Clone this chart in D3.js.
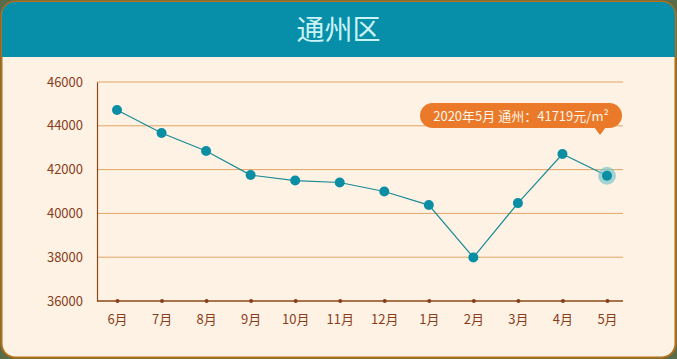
<!DOCTYPE html>
<html><head><meta charset="utf-8">
<script src="https://cdn.jsdelivr.net/npm/d3@7"></script>
<style>body{margin:0;background:#fff;}svg{display:block;}</style>
</head><body>
<svg id="c" width="677" height="359"></svg>
<script>
const title = "通州区";
const months = ["6月","7月","8月","9月","10月","11月","12月","1月","2月","3月","4月","5月"];
const prices = [44720,43670,42850,41750,41500,41410,41000,40380,37990,40470,42710,41719];
const yTicks = [36000,38000,40000,42000,44000,46000];
const tipText = "2020年5月 通州：41719元/m²";

const svg = d3.select("#c");
const W = 677, H = 359;
const font = "'Noto Sans CJK SC','Noto Sans',sans-serif";

// card
svg.append("rect").attr("x",0).attr("y",0).attr("width",W).attr("height",H).attr("fill","#5a6b4a");
svg.append("rect").attr("x",1.5).attr("y",1.5).attr("width",W-3).attr("height",H-3).attr("rx",14)
  .attr("fill","#fdf2e4").attr("stroke","#b0701c").attr("stroke-width",2);
// title bar
const clip = svg.append("clipPath").attr("id","cl");
clip.append("rect").attr("x",2).attr("y",2).attr("width",W-4).attr("height",H-4).attr("rx",13);
svg.append("rect").attr("clip-path","url(#cl)").attr("x",0).attr("y",0).attr("width",W).attr("height",57).attr("fill","#078ea8");
svg.append("text").attr("x",W/2).attr("y",40).attr("text-anchor","middle")
  .attr("font-family",font).attr("font-size",28).attr("fill","#c9f3f7").text(title);

const x = d3.scalePoint().domain(months).range([117,607]);
const y = d3.scaleLinear().domain([36000,46000]).range([301,82]);
const left = 97, right = 623;

// gridlines
svg.append("g").selectAll("line").data(yTicks.slice(1)).join("line")
  .attr("x1",left).attr("x2",right).attr("y1",d=>y(d)).attr("y2",d=>y(d))
  .attr("stroke","#e0a465").attr("stroke-width",1);

// y axis
const ya = svg.append("g").attr("transform",`translate(${left},0)`)
  .call(d3.axisLeft(y).tickValues(yTicks).tickSize(0).tickPadding(14).tickFormat(d3.format("d")));
ya.select(".domain").attr("stroke","#8a4a1a").attr("stroke-width",1.2);
ya.selectAll("text").attr("font-family",font).attr("font-size",13).attr("fill","#8a3d1a");

// x axis
const xa = svg.append("g").attr("transform",`translate(0,${y(36000)})`)
  .call(d3.axisBottom(x).tickSize(0).tickPadding(14));
xa.select(".domain").attr("d",`M${left},0H${right}`).attr("stroke","#8a4a1a").attr("stroke-width",1.5);
xa.selectAll("text").attr("font-family",font).attr("font-size",13).attr("fill","#8a3d1a");
xa.selectAll(".tick").append("circle").attr("r",2).attr("fill","#8a3d1a");

// line
const line = d3.line().x((d,i)=>x(months[i])).y(d=>y(d));
svg.append("path").datum(prices).attr("d",line).attr("fill","none").attr("stroke","#1a8a96").attr("stroke-width",1.2);

// halo on last point
const li = prices.length-1;
svg.append("circle").attr("cx",x(months[li])).attr("cy",y(prices[li])).attr("r",9).attr("fill","#7cc8cc").attr("opacity",0.7);
svg.append("g").selectAll("circle").data(prices).join("circle")
  .attr("cx",(d,i)=>x(months[i])).attr("cy",d=>y(d)).attr("r",5).attr("fill","#0a8ea4");

// tooltip
const tx = 420, ty = 103, tw = 202, th = 25;
const tip = svg.append("g");
tip.append("rect").attr("x",tx).attr("y",ty).attr("width",tw).attr("height",th).attr("rx",12.5).attr("fill","#ea7a2a");
tip.append("path").attr("d",`M${594},${ty+th-1}L${606},${ty+th-1}L${600},${ty+th+7}Z`).attr("fill","#ea7a2a");
tip.append("text").attr("x",tx+tw/2).attr("y",ty+17.5).attr("text-anchor","middle")
  .attr("font-family",font).attr("font-size",13).attr("fill","#fff4e8").text(tipText);
</script>
</body></html>
